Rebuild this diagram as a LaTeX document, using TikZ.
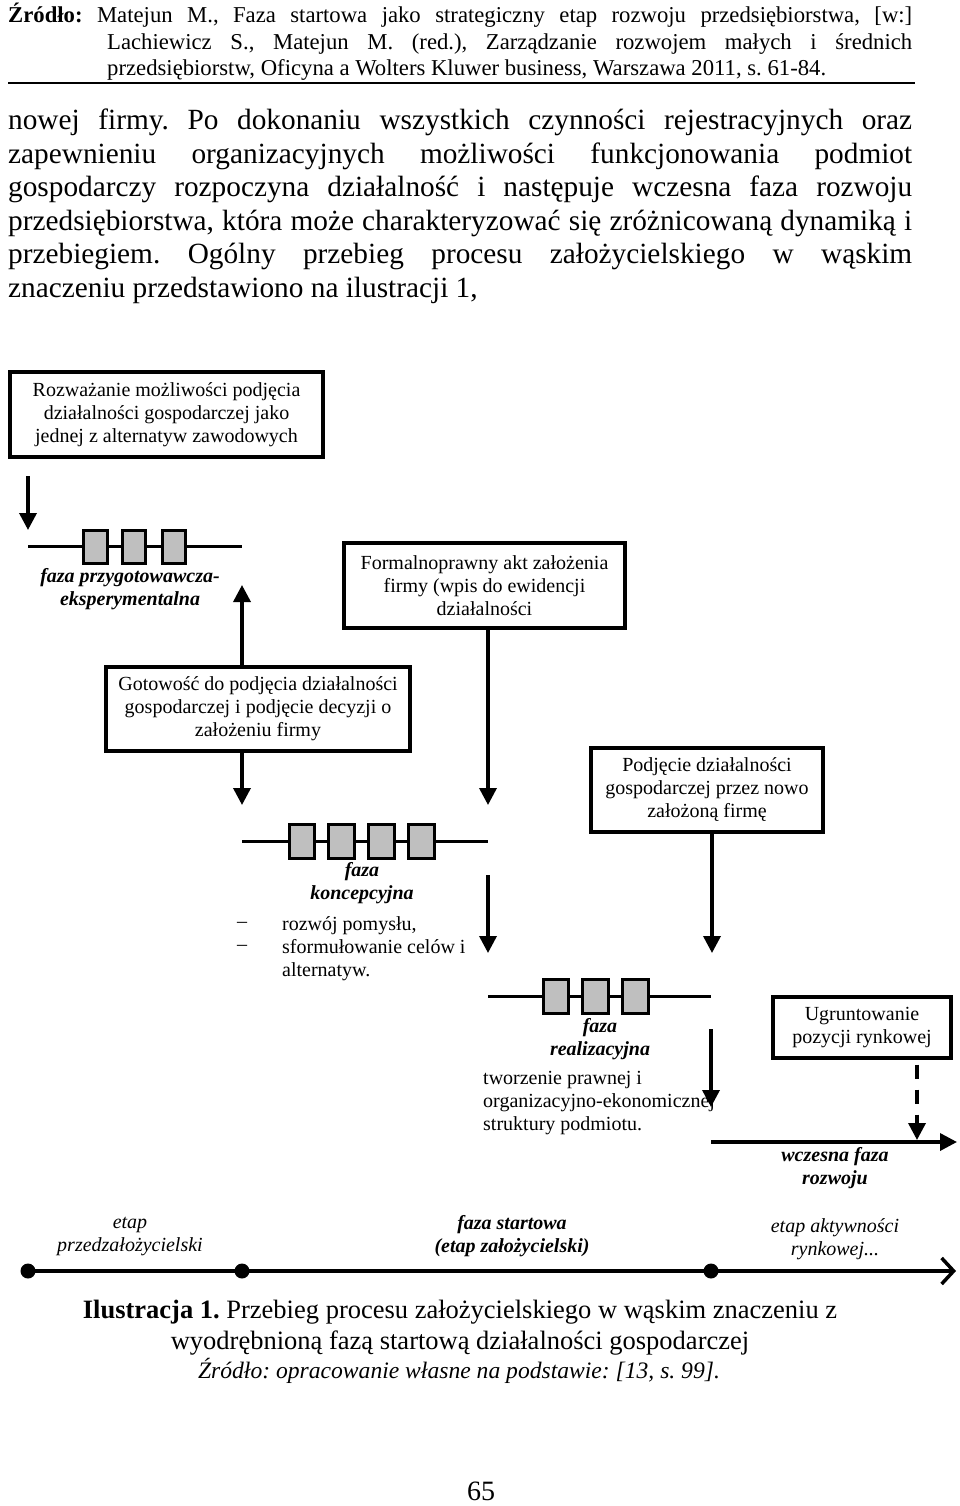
\documentclass[tikz,border=0pt]{standalone}
\usepackage{fontspec}
\setmainfont{Liberation Serif}
\usetikzlibrary{arrows.meta,calc}
\definecolor{boxgray}{HTML}{BFBFBF}
\newcommand\dgmfont{\fontsize{20}{23}\selectfont}
\newcommand\hdrfont{\fontsize{22.7}{27}\selectfont}
\newcommand\parfont{\fontsize{29.3}{34}\selectfont}
\newcommand\capfont{\fontsize{26.5}{30}\selectfont}
\frenchspacing
\begin{document}
\begin{tikzpicture}[x=1pt,y=-1pt,
  dbox/.style={draw,line width=3.3pt,align=center,font=\dgmfont,inner sep=0pt},
  lbl/.style={align=center,font=\dgmfont,inner sep=0pt},
  lleft/.style={align=left,font=\dgmfont,inner sep=0pt},
  bilbl/.style={align=center,font=\dgmfont\bfseries\itshape,inner sep=0pt},
  itlbl/.style={align=center,font=\dgmfont\itshape,inner sep=0pt},
  arr/.style={line width=3.5pt,-{Triangle[width=17pt,length=17pt]}},
  bar/.style={line width=3pt},
  gbox/.style={draw,line width=3pt,fill=boxgray},
  txt/.style={inner sep=0pt,anchor=base west}]
\fill[white] (0,0) rectangle (960,1506);
\useasboundingbox (0,0) rectangle (960,1506);

% header
\node[txt,font=\hdrfont] (h1) at (8,22.7) {\hbox to 904pt{\textbf{Źródło:} Matejun M., Faza startowa jako strategiczny etap rozwoju przedsiębiorstwa, [w:]}};
\node[txt,font=\hdrfont] (h2) at (107,50) {\hbox to 805pt{Lachiewicz S., Matejun M. (red.), Zarządzanie rozwojem małych i średnich}};
\node[txt,font=\hdrfont] (h3) at (107,75.5) {przedsiębiorstw, Oficyna a Wolters Kluwer business, Warszawa 2011, s. 61-84.};
\draw[line width=2pt] (8,83) -- (915,83);

% paragraph
\node[txt,font=\parfont] (p1) at (8,130) {\hbox to 904pt{nowej firmy. Po dokonaniu wszystkich czynności rejestracyjnych oraz}};
\node[txt,font=\parfont] (p2) at (8,163.6) {\hbox to 904pt{zapewnieniu organizacyjnych możliwości funkcjonowania podmiot}};
\node[txt,font=\parfont] (p3) at (8,197) {\hbox to 904pt{gospodarczy rozpoczyna działalność i następuje wczesna faza rozwoju}};
\node[txt,font=\parfont] (p4) at (8,230.5) {\hbox to 904pt{przedsiębiorstwa, która może charakteryzować się zróżnicowaną dynamiką i}};
\node[txt,font=\parfont] (p5) at (8,264) {\hbox to 904pt{przebiegiem. Ogólny przebieg procesu założycielskiego w wąskim}};
\node[txt,font=\parfont] (p6) at (8,297.5) {znaczeniu przedstawiono na ilustracji 1,};

% boxes
\node[dbox,minimum width=313pt,minimum height=85pt] (roz) at (166.5,414.5) {Rozważanie możliwości podjęcia\\działalności gospodarczej jako\\jednej z alternatyw zawodowych};
\node[dbox,minimum width=281pt,minimum height=85pt] (fp) at (484.5,585.5) {Formalnoprawny akt założenia\\firmy (wpis do ewidencji\\działalności};
\node[dbox,minimum width=304pt,minimum height=84pt] (got) at (258,709) {Gotowość do podjęcia działalności\\gospodarczej i podjęcie decyzji o\\założeniu firmy};
\node[dbox,minimum width=232pt,minimum height=84pt] (pd) at (707,790) {Podjęcie działalności\\gospodarczej przez nowo\\założoną firmę};
\node[dbox,minimum width=178pt,minimum height=61pt] (ug) at (862,1027.5) {Ugruntowanie\\pozycji rynkowej};

% phase bars
\draw[bar] (28,546) -- (242,546);
\draw[gbox] (83,530) rectangle (107,563);
\draw[gbox] (122,530) rectangle (145,563);
\draw[gbox] (162,530) rectangle (185,563);
\node[bilbl] (fprz) at (130,589.5) {faza przygotowawcza-\\eksperymentalna};

\draw[bar] (242,841) -- (488,841);
\draw[gbox] (289,824) rectangle (314,858);
\draw[gbox] (328,824) rectangle (354,858);
\draw[gbox] (368,824) rectangle (394,858);
\draw[gbox] (408,824) rectangle (434,858);
\node[bilbl] (fkon) at (362,883.5) {faza\\koncepcyjna};
\node[lbl] (d1) at (242,925) {–};
\node[lbl] (d2) at (242,948) {–};
\node[lleft,anchor=west] (kontxt) at (282,948.5) {rozwój pomysłu,\\sformułowanie celów i\\alternatyw.};

\draw[bar] (488,996) -- (711,996);
\draw[gbox] (543,979) rectangle (568,1013);
\draw[gbox] (582,979) rectangle (608,1013);
\draw[gbox] (622,979) rectangle (648,1013);
\node[bilbl] (freal) at (600,1039) {faza\\realizacyjna};
\node[lleft,anchor=west] (realtxt) at (483,1103) {tworzenie prawnej i\\organizacyjno-ekonomicznej\\struktury podmiotu.};

\node[bilbl] (wcz) at (835,1168.5) {wczesna faza\\rozwoju};

% arrows
\coordinate (a1s) at (28,476);
\coordinate (a1e) at (28,530);
\draw[arr] (a1s) -- (a1e);
\coordinate (upE) at (242,585);
\draw[arr] (upE |- got.north) -- (upE);
\coordinate (f1) at (488,805);
\draw[arr] (f1 |- fp.south) -- (f1);
\coordinate (g1) at (242,805);
\draw[arr] (g1 |- got.south) -- (g1);
\coordinate (k1s) at (488,875);
\coordinate (k1e) at (488,953);
\draw[arr] (k1s) -- (k1e);
\coordinate (pd1) at (712,953);
\draw[arr] (pd1 |- pd.south) -- (pd1);
\coordinate (r1s) at (711,1029);
\coordinate (r1e) at (711,1107);
\draw[arr] (r1s) -- (r1e);
\coordinate (h8s) at (711,1142);
\coordinate (h8e) at (957,1142);
\draw[arr] (h8s) -- (h8e);
\coordinate (u1) at (917,1140);
\draw[arr,dash pattern=on 14pt off 11pt] ($(u1 |- ug.south)+(0,5)$) -- (u1);

% timeline
\node[itlbl] (etp) at (130,1236.5) {etap\\przedzałożycielski};
\node[bilbl] (fst) at (512,1236) {faza startowa\\(etap założycielski)};
\node[itlbl] (eak) at (835,1239.5) {etap aktywności\\rynkowej...};
\coordinate (t0) at (28,1271);
\coordinate (t1) at (242,1271);
\coordinate (t2) at (711,1271);
\coordinate (t3) at (956,1271);
\draw[line width=3.5pt,-{Straight Barb[length=12pt,width=26pt]}] (t0) -- (t3);
\fill (t0) circle (7.5pt);
\fill (t1) circle (7.5pt);
\fill (t2) circle (7.5pt);

% caption
\node[inner sep=0pt,font=\capfont] (c1) at (460,1312) {\textbf{Ilustracja 1.} Przebieg procesu założycielskiego w wąskim znaczeniu z};
\node[inner sep=0pt,font=\capfont] (c2) at (460,1343) {wyodrębnioną fazą startową działalności gospodarczej};
\node[inner sep=0pt,font=\fontsize{23.6}{28}\selectfont\itshape] (c3) at (459,1371) {Źródło: opracowanie własne na podstawie: [13, s. 99].};

\node[inner sep=0pt,font=\fontsize{28}{32}\selectfont] (pg) at (481,1491) {65};
\end{tikzpicture}
\end{document}
